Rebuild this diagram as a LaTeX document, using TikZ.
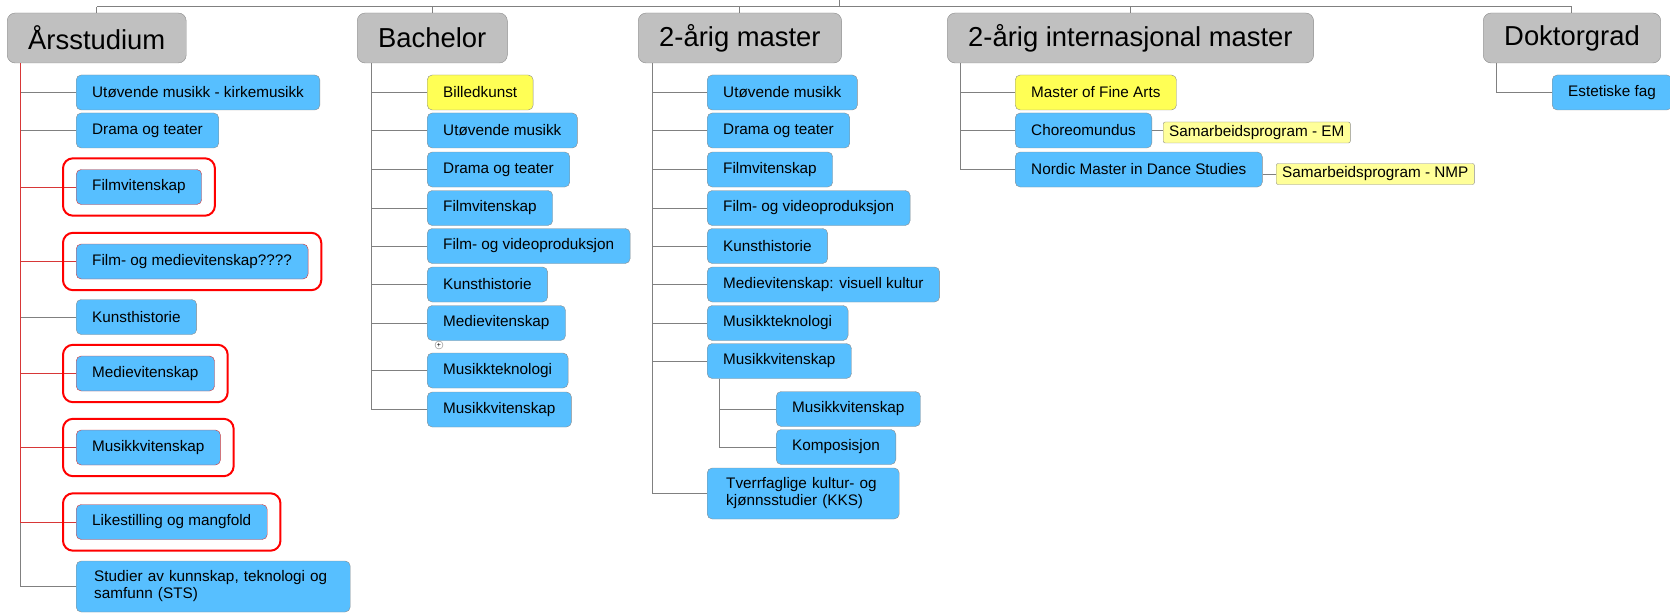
\documentclass[tikz,border=0pt]{standalone}
\usepackage{fontspec}
\setmainfont{Liberation Sans}
\usetikzlibrary{fit}

\definecolor{hdrgray}{RGB}{192,192,192}
\definecolor{hdrline}{RGB}{140,140,140}
\definecolor{itemblue}{RGB}{87,191,255}
\definecolor{itemyellow}{RGB}{255,255,85}
\definecolor{noteyellow}{RGB}{255,255,153}
\definecolor{linegray}{RGB}{128,128,128}
\definecolor{markred}{RGB}{215,55,55}

\begin{document}
\begin{tikzpicture}[x=1pt, y=-1pt,
  header/.style={draw=hdrline, fill=hdrgray, rounded corners=8pt, anchor=west,
    minimum height=50pt, inner xsep=21pt, font=\fontsize{27.4pt}{32pt}\selectfont},
  item/.style={draw=hdrline, fill=itemblue, rounded corners=5pt, anchor=west,
    minimum height=35pt, inner xsep=16pt, inner ysep=0pt, font=\fontsize{15.3pt}{17pt}\selectfont},
  twoline/.style={item, align=left, inner xsep=18pt, minimum height=51pt},
  flag/.style={item, fill=itemyellow},
  marked/.style={item, draw=markred},
  note/.style={draw=hdrline, fill=noteyellow, rounded corners=2pt, anchor=west,
    minimum height=21pt, inner xsep=6pt, inner ysep=0pt, font=\fontsize{15.3pt}{17pt}\selectfont},
  conn/.style={draw=linegray, line width=1pt},
  markconn/.style={draw=markred, line width=1pt},
  ring/.style={draw=red, line width=2pt, rounded corners=10pt, inner xsep=13pt, inner ysep=11pt}]
  \useasboundingbox (0,0) rectangle (1670,615);

  % Headers
  \node[header] (hA) at (7,38) {Årsstudium};
  \node[header] (hB) at (357,38) {Bachelor};
  \node[header] (hC) at (638,38) {2-årig master};
  \node[header] (hD) at (947,38) {2-årig internasjonal master};
  \node[header] (hE) at (1483,38) {Doktorgrad};

  % Top bus up to the (cut off) root
  \coordinate (root) at (839,0);
  \coordinate (bus) at (839,6.7);
  \draw[conn] (root) -- (bus);
  \draw[conn] (hA.north |- bus) -- (hE.north |- bus);
  \foreach \h in {hA,hB,hC,hD,hE}
    \draw[conn] (\h.north) -- (\h.north |- bus);

  % Årsstudium
  \node[item] (a1) at (76,92.5) {Utøvende musikk - kirkemusikk};
  \node[item] (a2) at (76,130.5) {Drama og teater};
  \node[marked] (a3) at (76,187) {Filmvitenskap};
  \node[marked] (a4) at (76,261.5) {Film- og medievitenskap????};
  \node[item] (a5) at (76,317) {Kunsthistorie};
  \node[marked] (a6) at (76,373.5) {Medievitenskap};
  \node[marked] (a7) at (76,447.5) {Musikkvitenskap};
  \node[marked] (a8) at (76,522) {Likestilling og mangfold};
  \node[twoline, text width=238pt] (a9) at (76,586.5) {Studier av kunnskap, teknologi og\\samfunn (STS)};
  \coordinate (sA) at ([xshift=13.5pt]hA.south west);
  \foreach \c in {a1,a2,a5,a9}
    \draw[conn] (sA) |- (\c.west);
  \foreach \c in {a3,a4,a6,a7,a8} {
    \draw[markconn] (sA) |- (\c.west);
    \node[ring, fit=(\c)] (ring-\c) {};
  }

  % Bachelor
  \node[flag] (b1) at (427,92.5) {Billedkunst};
  \node[item] (b2) at (427,130.5) {Utøvende musikk};
  \node[item] (b3) at (427,169.5) {Drama og teater};
  \node[item] (b4) at (427,208) {Filmvitenskap};
  \node[item] (b5) at (427,246) {Film- og videoproduksjon};
  \node[item] (b6) at (427,284.5) {Kunsthistorie};
  \node[item] (b7) at (427,323) {Medievitenskap};
  \node[item] (b8) at (427,370.5) {Musikkteknologi};
  \node[item] (b9) at (427,409.5) {Musikkvitenskap};
  \node[circle, draw=linegray, fill=white, inner sep=0pt, minimum size=8pt,
    font=\fontsize{7pt}{7pt}\selectfont] (fold) at (439,345) {+};
  \coordinate (sB) at ([xshift=14pt]hB.south west);
  \foreach \c in {b1,b2,b3,b4,b5,b6,b7,b8,b9}
    \draw[conn] (sB) |- (\c.west);

  % 2-årig master
  \node[item] (c1) at (707,92.5) {Utøvende musikk};
  \node[item] (c2) at (707,130.5) {Drama og teater};
  \node[item] (c3) at (707,169.5) {Filmvitenskap};
  \node[item] (c4) at (707,208) {Film- og videoproduksjon};
  \node[item] (c5) at (707,246) {Kunsthistorie};
  \node[item] (c6) at (707,284.5) {Medievitenskap: visuell kultur};
  \node[item] (c7) at (707,323) {Musikkteknologi};
  \node[item] (c8) at (707,361) {Musikkvitenskap};
  \node[item] (c81) at (776,409) {Musikkvitenskap};
  \node[item] (c82) at (776,447) {Komposisjon};
  \node[twoline, text width=154pt, inner xsep=19pt] (c9) at (707,493.5) {Tverrfaglige kultur- og\\kjønnsstudier (KKS)};
  \coordinate (sC) at ([xshift=14pt]hC.south west);
  \foreach \c in {c1,c2,c3,c4,c5,c6,c7,c8,c9}
    \draw[conn] (sC) |- (\c.west);
  \coordinate (sC8) at ([xshift=12pt]c8.south west);
  \foreach \c in {c81,c82}
    \draw[conn] (sC8) |- (\c.west);

  % 2-årig internasjonal master
  \node[flag] (d1) at (1015,92.5) {Master of Fine Arts};
  \node[item] (d2) at (1015,130.5) {Choreomundus};
  \node[item] (d3) at (1015,169.5) {Nordic Master in Dance Studies};
  \node[note] (n1) at (1163,132.5) {Samarbeidsprogram - EM};
  \node[note] (n2) at (1276,174) {Samarbeidsprogram - NMP};
  \coordinate (sD) at ([xshift=13pt]hD.south west);
  \foreach \c in {d1,d2,d3}
    \draw[conn] (sD) |- (\c.west);
  \draw[conn] (d2.east) -- (d2.east -| n1.west);
  \draw[conn] (n2.west -| d3.east) -- (n2.west);

  % Doktorgrad
  \node[item] (e1) at (1552,92.5) {Estetiske fag};
  \coordinate (sE) at ([xshift=13pt]hE.south west);
  \draw[conn] (sE) |- (e1.west);
\end{tikzpicture}
\end{document}
